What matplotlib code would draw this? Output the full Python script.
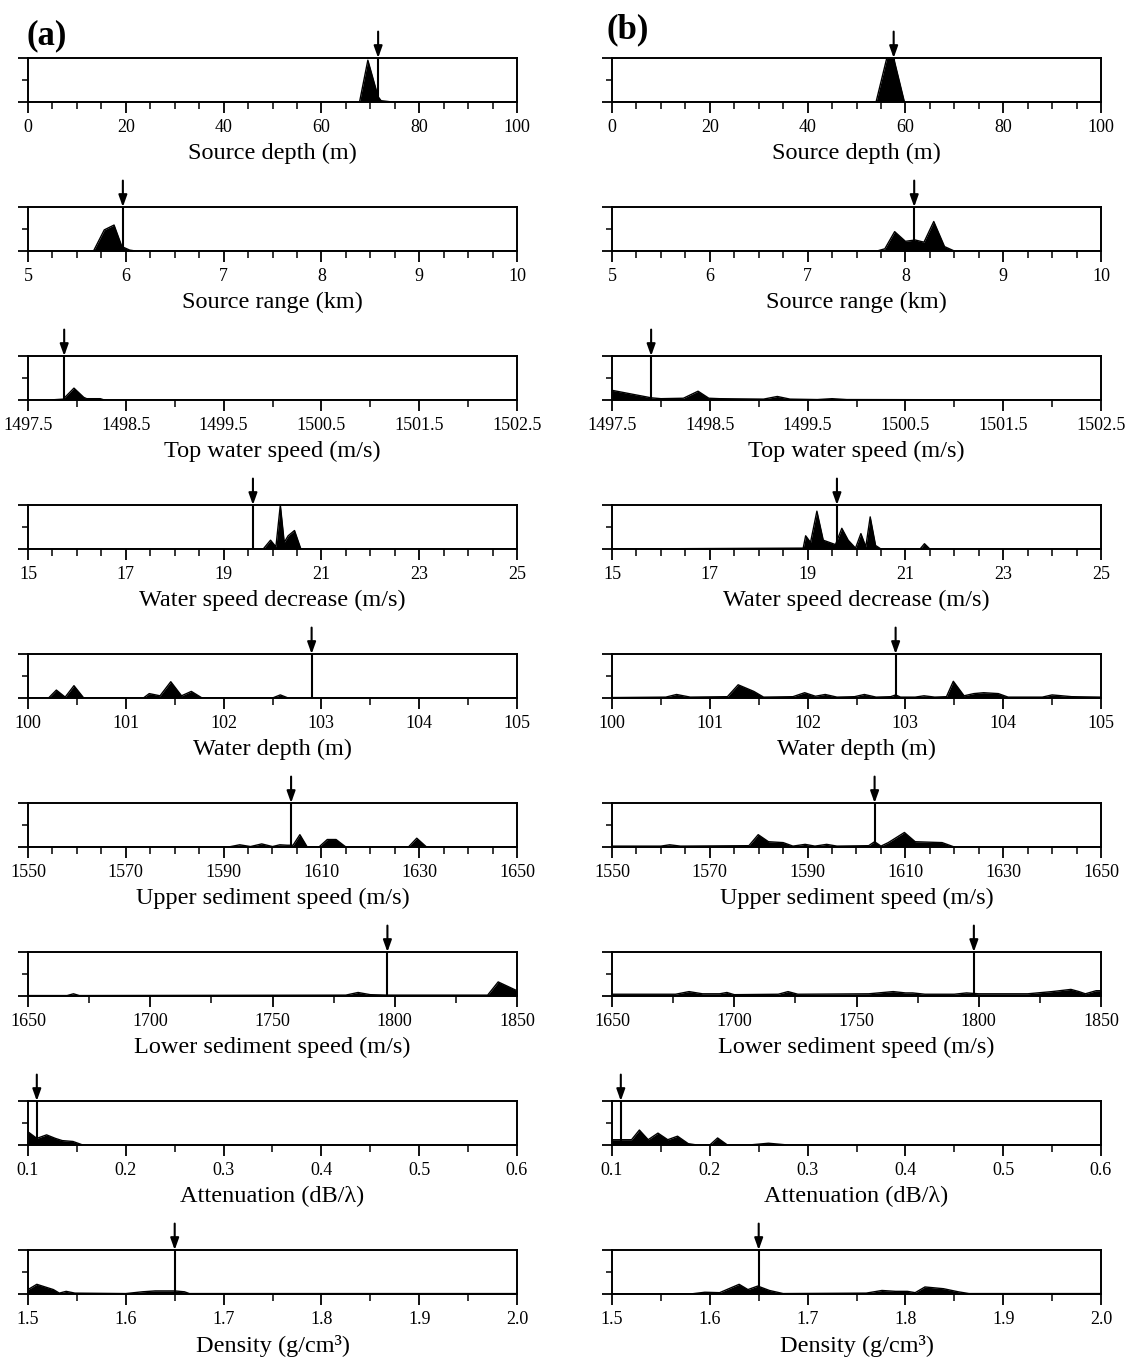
import matplotlib.pyplot as plt

plt.rcParams['font.family'] = ['Liberation Serif', 'DejaVu Serif']

# ---- panel rows: axis labels, ranges, ticks ----
row_labels = ['Source depth (m)', 'Source range (km)', 'Top water speed (m/s)',
              'Water speed decrease (m/s)', 'Water depth (m)',
              'Upper sediment speed (m/s)', 'Lower sediment speed (m/s)',
              'Attenuation (dB/λ)', 'Density (g/cm³)']
tick_vals = [[0, 20, 40, 60, 80, 100],
             [5, 6, 7, 8, 9, 10],
             [1497.5, 1498.5, 1499.5, 1500.5, 1501.5, 1502.5],
             [15, 17, 19, 21, 23, 25],
             [100, 101, 102, 103, 104, 105],
             [1550, 1570, 1590, 1610, 1630, 1650],
             [1650, 1700, 1750, 1800, 1850],
             [0.1, 0.2, 0.3, 0.4, 0.5, 0.6],
             [1.5, 1.6, 1.7, 1.8, 1.9, 2.0]]
minor_step = [5, 0.25, 0.5, 0.5, 0.5, 5, 25, 0.05, 0.05]

# ---- (a) ----
depth_a_x = [0, 67.8, 69.5, 71.6, 72.2, 74.5, 100]
depth_a_y = [0, 0, 0.95, 0.12, 0.03, 0, 0]
range_a_x = [5, 5.67, 5.78, 5.88, 5.96, 6.04, 6.1, 10]
range_a_y = [0, 0, 0.48, 0.59, 0.1, 0.02, 0, 0]
topspd_a_x = [1497.5, 1497.72, 1497.86, 1497.97, 1498.07, 1498.1, 1498.24, 1498.28, 1502.5]
topspd_a_y = [0, 0, 0.02, 0.27, 0.06, 0.03, 0.03, 0, 0]
wsd_a_x = [15, 19.81, 19.96, 20.07, 20.16, 20.24, 20.32, 20.45, 20.58, 25]
wsd_a_y = [0, 0, 0.2, 0.05, 1.0, 0.15, 0.3, 0.42, 0, 0]
wdep_a_x = [100, 100.21, 100.29, 100.38, 100.47, 100.57, 101.18, 101.24, 101.35, 101.46,
            101.57, 101.67, 101.78, 102.5, 102.58, 102.66, 105]
wdep_a_y = [0, 0, 0.18, 0.02, 0.28, 0, 0, 0.1, 0.05, 0.37, 0.05, 0.15, 0, 0, 0.07, 0, 0]
usp_a_x = [1550, 1591, 1593.3, 1595.5, 1597.8, 1600, 1601.5, 1603, 1604.2, 1605.6, 1607.1,
           1609.5, 1611.2, 1613, 1615, 1627.8, 1629.5, 1631.5, 1650]
usp_a_y = [0, 0, 0.05, 0.01, 0.07, 0.01, 0.05, 0.04, 0.04, 0.28, 0, 0, 0.17, 0.17, 0, 0, 0.2, 0, 0]
lsp_a_x = [1650, 1666, 1668.6, 1671, 1780, 1785, 1790, 1797, 1838, 1842.3, 1850]
lsp_a_y = [0.01, 0.01, 0.05, 0.01, 0.02, 0.08, 0.03, 0.02, 0.02, 0.32, 0.12]
att_a_x = [0.1, 0.109, 0.119, 0.128, 0.135, 0.146, 0.156, 0.6]
att_a_y = [0.3, 0.15, 0.23, 0.15, 0.1, 0.08, 0, 0]
dens_a_x = [1.5, 1.509, 1.526, 1.532, 1.539, 1.548, 1.6, 1.617, 1.63, 1.65, 1.66, 1.665, 2.0]
dens_a_y = [0.1, 0.22, 0.1, 0.02, 0.06, 0.02, 0.01, 0.05, 0.07, 0.07, 0.05, 0.01, 0.01]
true_a = [71.6, 5.97, 1497.87, 19.6, 102.9, 1603.8, 1797, 0.109, 1.65]

# ---- (b) ----
depth_b_x = [0, 54.0, 56.2, 57.6, 59.8, 100]
depth_b_y = [0, 0, 1.0, 1.0, 0, 0]
range_b_x = [5, 7.71, 7.79, 7.89, 8.0, 8.1, 8.19, 8.29, 8.4, 8.5, 10]
range_b_y = [0, 0, 0.05, 0.44, 0.22, 0.25, 0.2, 0.67, 0.1, 0, 0]
topspd_b_x = [1497.5, 1497.9, 1498.0, 1498.23, 1498.38, 1498.49, 1498.6, 1499.05, 1499.19,
              1499.32, 1499.6, 1499.75, 1499.9, 1502.5]
topspd_b_y = [0.22, 0.05, 0.03, 0.04, 0.2, 0.04, 0.03, 0.02, 0.08, 0.02, 0.01, 0.03, 0.01, 0.0]
wsd_b_x = [15, 18.91, 18.96, 19.06, 19.19, 19.32, 19.57, 19.7, 19.83, 19.98, 20.09, 20.19,
           20.28, 20.39, 20.5, 21.3, 21.39, 21.5, 25]
wsd_b_y = [0, 0.02, 0.3, 0.15, 0.86, 0.2, 0.1, 0.47, 0.2, 0.02, 0.35, 0.05, 0.73, 0.08,
           0, 0, 0.12, 0, 0]
wdep_b_x = [100, 100.55, 100.66, 100.8, 101.18, 101.29, 101.45, 101.55, 101.85, 101.97, 102.08,
            102.18, 102.3, 102.48, 102.58, 102.7, 102.85, 102.9, 102.95, 103.1, 103.19, 103.3,
            103.42, 103.49, 103.6, 103.7, 103.8, 103.95, 104.05, 104.4, 104.5, 104.7, 105]
wdep_b_y = [0.01, 0.02, 0.08, 0.02, 0.03, 0.3, 0.15, 0.02, 0.03, 0.12, 0.04, 0.08, 0.02, 0.03,
            0.08, 0.02, 0.03, 0.07, 0.02, 0.02, 0.05, 0.02, 0.03, 0.38, 0.05, 0.1, 0.12, 0.1,
            0.02, 0.02, 0.07, 0.03, 0.02]
usp_b_x = [1550, 1560, 1561.8, 1564, 1578, 1579.9, 1582, 1585, 1587, 1589.5, 1591.5, 1593.9,
           1596, 1602.5, 1603.7, 1605, 1606.5, 1609.8, 1612, 1617.5, 1620, 1650]
usp_b_y = [0.02, 0.02, 0.05, 0.02, 0.03, 0.28, 0.12, 0.1, 0.02, 0.06, 0.02, 0.06, 0.02, 0.03,
           0.12, 0.02, 0.1, 0.33, 0.12, 0.1, 0, 0]
lsp_b_x = [1650, 1676, 1681.5, 1687, 1694, 1697, 1700, 1718, 1722, 1726, 1755, 1765, 1770,
           1773, 1778, 1790, 1795, 1800, 1820, 1830, 1837.7, 1841, 1843.6, 1848, 1850]
lsp_b_y = [0.04, 0.04, 0.1, 0.05, 0.05, 0.08, 0.03, 0.04, 0.1, 0.04, 0.05, 0.1, 0.07, 0.07,
           0.04, 0.04, 0.07, 0.05, 0.05, 0.1, 0.15, 0.1, 0.05, 0.12, 0.12]
att_b_x = [0.1, 0.12, 0.128, 0.137, 0.147, 0.157, 0.167, 0.178, 0.187, 0.2, 0.208, 0.218,
           0.24, 0.26, 0.28, 0.6]
att_b_y = [0.12, 0.12, 0.34, 0.12, 0.27, 0.12, 0.2, 0.03, 0, 0, 0.16, 0, 0, 0.04, 0, 0]
dens_b_x = [1.5, 1.58, 1.595, 1.61, 1.63, 1.639, 1.649, 1.661, 1.675, 1.76, 1.776, 1.79,
            1.802, 1.81, 1.82, 1.839, 1.854, 1.865, 2.0]
dens_b_y = [0, 0, 0.04, 0.03, 0.22, 0.1, 0.18, 0.08, 0.01, 0.02, 0.08, 0.06, 0.06, 0.03,
            0.16, 0.12, 0.05, 0.01, 0.01]
true_b = [57.6, 8.09, 1497.9, 19.6, 102.9, 1603.7, 1798, 0.109, 1.65]

curves_a = [(depth_a_x, depth_a_y), (range_a_x, range_a_y), (topspd_a_x, topspd_a_y),
            (wsd_a_x, wsd_a_y), (wdep_a_x, wdep_a_y), (usp_a_x, usp_a_y),
            (lsp_a_x, lsp_a_y), (att_a_x, att_a_y), (dens_a_x, dens_a_y)]
curves_b = [(depth_b_x, depth_b_y), (range_b_x, range_b_y), (topspd_b_x, topspd_b_y),
            (wsd_b_x, wsd_b_y), (wdep_b_x, wdep_b_y), (usp_b_x, usp_b_y),
            (lsp_b_x, lsp_b_y), (att_b_x, att_b_y), (dens_b_x, dens_b_y)]

W, H = 1143, 1364
fig = plt.figure(figsize=(W / 100, H / 100), dpi=100)


def draw_panel(left_px, i, xy, true_val):
    top = 58 + 149 * i
    h = 44
    ax = fig.add_axes([left_px / W, 1 - (top + h) / H, 489 / W, h / H])
    x, y = xy
    ticks = tick_vals[i]
    ax.fill_between(x, y, 0, color='black', lw=0)
    ax.plot(x, y, color='black', lw=1.0)
    ax.plot([true_val, true_val], [0, 1], color='black', lw=1.5)
    ax.annotate('', xy=(true_val, 1.0), xytext=(true_val, 1.6),
                arrowprops=dict(arrowstyle='-|>,head_length=0.7,head_width=0.25',
                                color='black', lw=1.5, mutation_scale=10,
                                shrinkA=0, shrinkB=0),
                annotation_clip=False)
    ax.set_xlim(ticks[0], ticks[-1])
    ax.set_ylim(0, 1)
    ax.set_xticks(ticks)
    ax.set_xticklabels([str(t) for t in ticks])
    n = round((ticks[-1] - ticks[0]) / minor_step[i])
    ax.set_xticks([ticks[0] + k * minor_step[i] for k in range(n + 1)], minor=True)
    ax.set_yticks([0, 1])
    ax.set_yticks([0.5], minor=True)
    ax.set_yticklabels([])
    ax.tick_params(axis='x', which='major', direction='out', length=8, width=1.3,
                   labelsize=13, pad=4)
    ax.tick_params(axis='x', which='minor', direction='out', length=5, width=1.1)
    ax.tick_params(axis='y', which='major', direction='out', length=7, width=1.3)
    ax.tick_params(axis='y', which='minor', direction='out', length=4, width=1.1)
    for s in ax.spines.values():
        s.set_linewidth(1.4)
    ax.set_xlabel(row_labels[i], fontsize=17.5, labelpad=5)
    return ax


for i in range(9):
    draw_panel(28, i, curves_a[i], true_a[i])
    draw_panel(612, i, curves_b[i], true_b[i])

fig.text(26 / W, 1 - 36 / H, '(a)', fontsize=25, fontweight='bold', va='center', ha='left')
fig.text(606 / W, 1 - 30 / H, '(b)', fontsize=25, fontweight='bold', va='center', ha='left')

fig.savefig('out.png', dpi=100)
